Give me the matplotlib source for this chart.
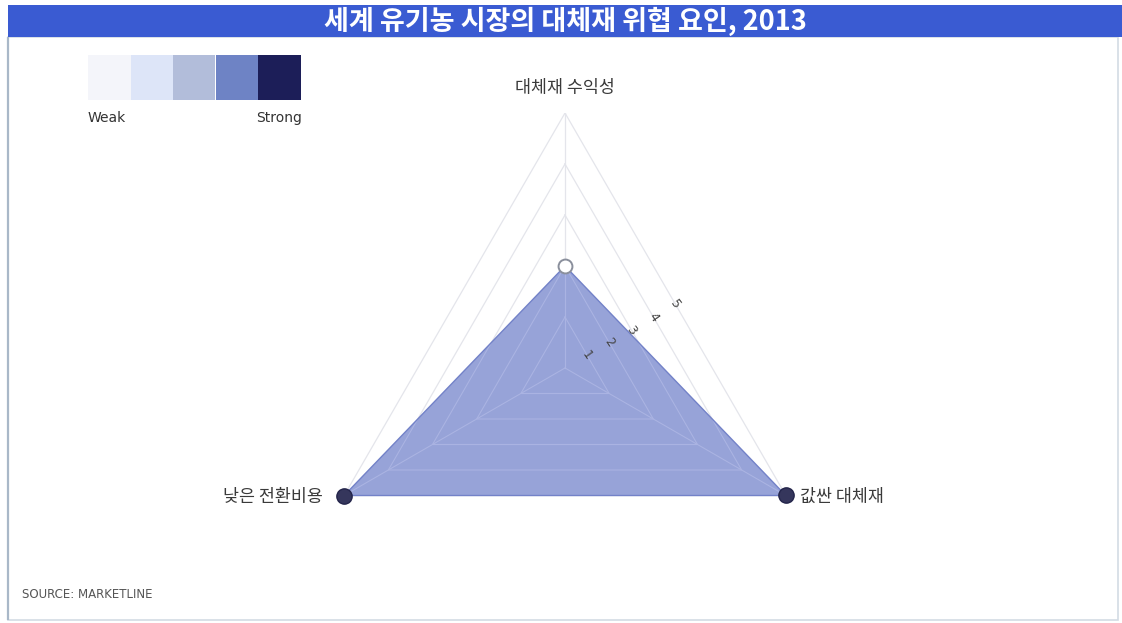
import numpy as np
import matplotlib
matplotlib.use('Agg')
import matplotlib.pyplot as plt
from matplotlib.patches import Rectangle

plt.rcParams['font.family'] = ['Noto Sans CJK KR', 'DejaVu Sans']

# 세계 유기농 시장 - 대체재 위협 요인 (1~5 척도)
categories = ['대체재 수익성', '값싼 대체재', '낮은 전환비용']
values = [2, 5, 5]
ring_levels = [1, 2, 3, 4, 5]
legend_colors = ['#f4f5fa', '#dde5f8', '#b2bdda', '#6e83c5', '#1c1e58']
title = '세계 유기농 시장의 대체재 위협 요인, 2013'
source = 'SOURCE: MARKETLINE'

fig = plt.figure(figsize=(11.22, 6.23), dpi=100)
fig.patch.set_facecolor('white')

# 테두리와 제목 막대
W, H = 1122, 623
def fx(px):
    return px / W
def fy(py):
    return 1 - py / H

fig.patches.append(Rectangle((fx(8), fy(620)), fx(1118) - fx(8), fy(37) - fy(620),
                             transform=fig.transFigure, facecolor='none',
                             edgecolor='#d3dbe4', lw=1.2))
fig.patches.append(Rectangle((fx(8), fy(620)), 0, fy(37) - fy(620),
                             transform=fig.transFigure, facecolor='none',
                             edgecolor='#a9b8c8', lw=1.6))
fig.patches.append(Rectangle((fx(8), fy(37)), 1 - fx(8), fy(5) - fy(37),
                             transform=fig.transFigure, facecolor='#3a5bd2',
                             edgecolor='none'))
fig.text(fx(565), fy(21), title, color='white', fontsize=19.5, fontweight='bold',
         ha='center', va='center')

# 레이더 차트
cx, cy, R = 565, 368, 255
ax = fig.add_axes([fx(cx - R), fy(cy + R), 2 * R / W, 2 * R / H], projection='polar')
ax.set_theta_offset(np.pi / 2)
ax.set_theta_direction(-1)
ax.set_ylim(0, 5)
ax.grid(False)
ax.spines['polar'].set_visible(False)
ax.set_xticks([])
ax.set_yticks([])
ax.patch.set_alpha(0)

angles = np.linspace(0, 2 * np.pi, len(categories), endpoint=False)
closed = np.append(angles, angles[0])
vals_closed = np.append(values, values[0])

def draw_grid(color, lw, zorder, clip=None):
    lines = []
    for lvl in ring_levels:
        lines += ax.plot(closed, [lvl] * len(closed), color=color, lw=lw, zorder=zorder)
    for a in angles:
        lines += ax.plot([a, a], [0, 5], color=color, lw=lw, zorder=zorder)
    if clip is not None:
        for ln in lines:
            ln.set_clip_path(clip)

draw_grid('#e4e5eb', 0.9, 1)

area = ax.fill(closed, vals_closed, color='#7485cc', alpha=0.75, lw=0, zorder=2)[0]
# 채움 안쪽에서 비치는 눈금선
draw_grid('#aab3e2', 0.9, 3, clip=area)
ax.plot(closed, vals_closed, color='#7382c8', lw=1, zorder=4)

for a, v in zip(angles, values):
    if v < 5:
        ax.plot(a, v, 'o', ms=10, mfc='white', mec='#8a8f9c', mew=1.4, zorder=5, clip_on=False)
    else:
        ax.plot(a, v, 'o', ms=11, mfc='#35365c', mec='#23244a', mew=1, zorder=5, clip_on=False)

# 척도 라벨
tick_angle = np.deg2rad(60)
for lvl in ring_levels:
    ax.text(tick_angle, lvl * 0.5, str(lvl), fontsize=9, color='#444444',
            rotation=-55, ha='center', va='center', zorder=6, family='DejaVu Sans')

# 축 이름
fig.text(fx(565), fy(88), categories[0], fontsize=12.5, color='#3a3a3a', ha='center', va='center')
fig.text(fx(800), fy(497), categories[1], fontsize=12.5, color='#3a3a3a', ha='left', va='center')
fig.text(fx(323), fy(497), categories[2], fontsize=12.5, color='#3a3a3a', ha='right', va='center')

# 강도 범례
for i, c in enumerate(legend_colors):
    x0 = 88 + i * 42.5
    fig.patches.append(Rectangle((fx(x0), fy(100)), 42.5 / W, 45 / H,
                                 transform=fig.transFigure, facecolor=c, edgecolor='none'))
fig.text(fx(88), fy(118), 'Weak', fontsize=10, color='#333333', ha='left', va='center',
         family='DejaVu Sans')
fig.text(fx(302), fy(118), 'Strong', fontsize=10, color='#333333', ha='right', va='center',
         family='DejaVu Sans')

fig.text(fx(22), fy(595), source, fontsize=8.5, color='#555555', ha='left', va='center',
         family='DejaVu Sans')

fig.savefig('out.png', dpi=100)
